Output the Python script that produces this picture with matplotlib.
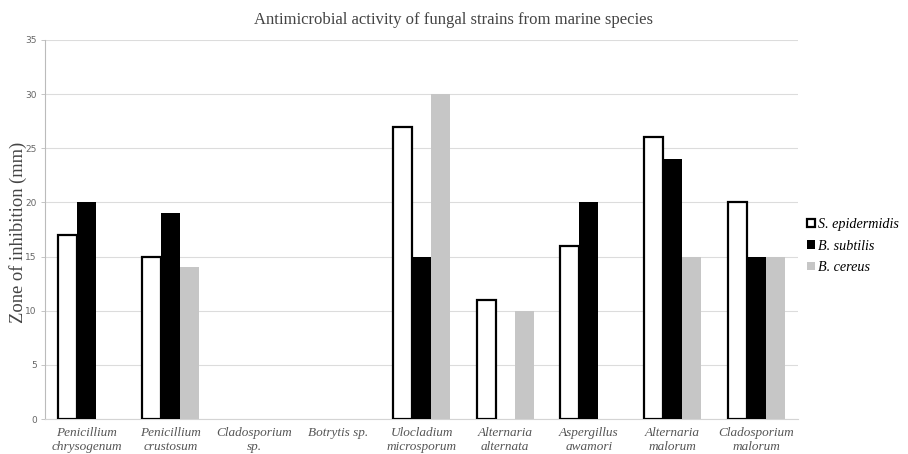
import matplotlib

matplotlib.use("Agg")
import matplotlib.pyplot as plt
import numpy as np

# strain names and zone of inhibition (mm) per test organism
strains = [
    "Penicillium\nchrysogenum", "Penicillium\ncrustosum", "Cladosporium\nsp.",
    "Botrytis sp.", "Ulocladium\nmicrosporum", "Alternaria\nalternata",
    "Aspergillus\nawamori", "Alternaria\nmalorum", "Cladosporium\nmalorum",
]
s_epidermidis = [17, 15, 0, 0, 27, 11, 16, 26, 20]
b_subtilis = [20, 19, 0, 0, 15, 0, 20, 24, 15]
b_cereus = [0, 14, 0, 0, 30, 10, 0, 15, 15]
y_ticks = [0, 5, 10, 15, 20, 25, 30, 35]

fig = plt.figure(figsize=(9.08, 4.54), dpi=100)
ax = fig.add_axes([0.0496, 0.077, 0.8294, 0.835])

x = np.arange(len(strains))
w = 0.227
# no outline on empty (zero) bars, otherwise a stray line shows on the axis
edge_w = [1.6 if v > 0 else 0 for v in s_epidermidis]
ax.bar(x - w, s_epidermidis, w, color="white", edgecolor="black",
       linewidth=edge_w, label="S. epidermidis", zorder=3)
ax.bar(x, b_subtilis, w, color="black", linewidth=0,
       label="B. subtilis", zorder=3)
ax.bar(x + w, b_cereus, w, color="#c6c6c6", linewidth=0,
       label="B. cereus", zorder=3)

ax.set_xlim(-0.5, len(strains) - 0.5)
ax.set_ylim(0, 35)
ax.set_yticks(y_ticks)
ax.tick_params(axis="y", labelsize=6.5, labelcolor="#666666", color="#bbbbbb",
               length=3, width=0.6, pad=3)
ax.set_xticks(x)
ax.set_xticklabels(strains, fontsize=9.5, style="italic",
                   family="Liberation Serif", color="#555555")
ax.tick_params(axis="x", length=0, pad=6)
ax.grid(axis="y", color="#dcdcdc", linewidth=0.8, zorder=0)
for side in ["top", "right"]:
    ax.spines[side].set_visible(False)
ax.spines["left"].set_color("#bbbbbb")
ax.spines["bottom"].set_color("#d4d4d4")

ax.set_ylabel("Zone of inhibition (mm)", family="Liberation Serif",
              fontsize=13.3, color="#444444")
ax.yaxis.set_label_coords(-0.024, 0.493)
fig.text(0.5, 0.955, "Antimicrobial activity of fungal strains from marine species",
         ha="center", va="center", family="Liberation Serif", fontsize=12,
         color="#444444")

fig.legend(loc="center left", bbox_to_anchor=(0.889, 0.458), frameon=False,
           prop={"family": "Liberation Serif", "style": "italic", "size": 10.2},
           handlelength=0.55, handleheight=0.55, handletextpad=0.2,
           labelspacing=0.6, borderaxespad=0, borderpad=0)

fig.savefig("out.png", dpi=100)
